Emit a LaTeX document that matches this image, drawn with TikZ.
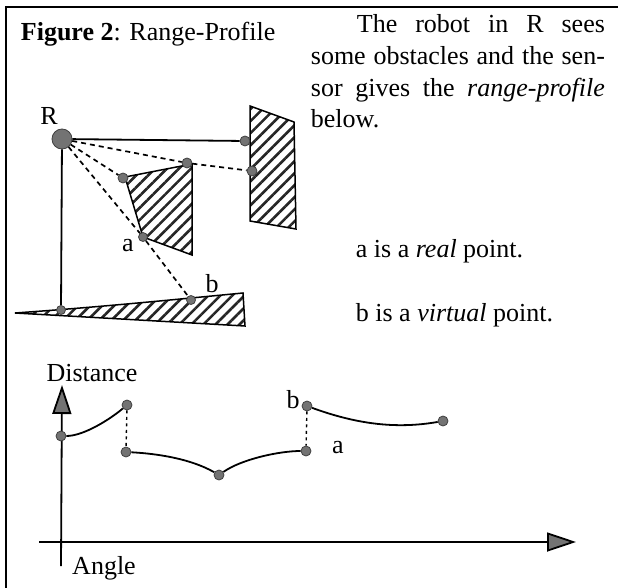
\documentclass[tikz,border=0pt]{standalone}
\usepackage{fontspec}
\setmainfont{Liberation Serif}
\usetikzlibrary{arrows.meta,patterns.meta,calc}

\begin{document}
\begin{tikzpicture}[x=1pt,y=-1pt,line width=1.8pt,
 hit/.style={draw=black!75,fill=black!55,circle,minimum size=10pt,inner sep=0pt,line width=0.8pt},
 robot/.style={hit,minimum size=20pt},
 lab/.style={font=\fontsize{26}{32}\selectfont,inner sep=0pt},
 txt/.style={lab,anchor=base west},
 obst/.style={draw,line width=1.5pt,pattern={Lines[angle=45,distance=8.5pt,line width=2.6pt]},pattern color=black!85},
 ray/.style={dash pattern=on 5pt off 4pt,line width=1.7pt},
 vgap/.style={dash pattern=on 3pt off 3.5pt,line width=1.4pt},
 axis/.style={-{Triangle[length=29pt,width=19pt,fill=black!55]},line width=1.8pt}]
\useasboundingbox (0,0) rectangle (618,588);
% frame
\draw[line width=2pt] (5.5,588) -- (5.5,7) -- (618,7);
% obstacles
\draw[obst] (250,106) -- (294,122) -- (296,229) -- (250,221) -- cycle;
\draw[obst] (125,177) -- (192,164) -- (192,255) -- (143,237) -- cycle;
\draw[obst] (15,313) .. controls (100,307) and (170,300) .. (243,293) -- (245,326) -- cycle;
% points on the scene
\node[robot] (R) at (62,139) {};
\node[hit] (h1) at (245,141) {};
\node[hit] (h2) at (252,171) {};
\node[hit] (h3) at (187,163) {};
\node[hit] (h4) at (123,178) {};
\node[hit,minimum size=9pt] (ra) at (143,237) {};
\node[hit,minimum size=9pt] (rb) at (191,300) {};
\node[hit,minimum size=9pt] (h5) at (61,310) {};
\draw (R) -- (h1);
\draw (R) -- (h5);
\draw[ray] (R) -- (h3);
\draw[ray] (h3) -- (h2);
\draw[ray] (R) -- (h4);
\draw[ray] (R) -- (ra);
\draw[ray] (ra) -- (rb);
\node[lab] (lR) at (49,116) {R};
\node[lab] (la) at (128,246) {a};
\node[lab] (lb) at (212,284) {b};
% text
\node[txt] (title) at (20,41) {\textbf{Figure 2}: Range-Profile};
\node[txt] (t1) at (356,33) {\makebox[248pt][s]{The robot in R sees}};
\node[txt] (t2) at (310,65) {\makebox[294pt][s]{some obstacles and the sen-}};
\node[txt] (t3) at (310,97) {\makebox[294pt][s]{sor gives the \textit{range-profile}}};
\node[txt] (t4) at (310,128) {below.};
\node[txt] (t5) at (355,257) {a is a \textit{real} point.};
\node[txt] (t6) at (355,321) {b is a \textit{virtual} point.};
% profile
\coordinate (ytop) at (62,385);
\coordinate (ybot) at (61,566);
\coordinate (xlft) at (39,542);
\coordinate (xrgt) at (576,542);
\draw[axis] (ybot) -- (ytop);
\draw[axis] (xlft) -- (xrgt);
\node[hit] (p1) at (61,436) {};
\node[hit] (p2) at (127,405) {};
\node[hit] (p3) at (126,452) {};
\node[hit] (p4) at (219,475) {};
\node[hit] (p5) at (306,451) {};
\node[hit] (p6) at (307,406) {};
\node[hit] (p7) at (443,421) {};
\draw (p1) to[out=0,in=220,looseness=0.7] (p2);
\draw (p3) to[out=-3,in=150,looseness=0.8] (p4);
\draw (p4) to[out=35,in=180,looseness=0.7] (p5);
\draw (p6) to[out=-20,in=190,looseness=0.9] (p7);
\draw[vgap] (p2) -- (p3);
\draw[vgap] (p6) -- (p5);
\node[lab] (dist) at (92,373) {Distance};
\node[lab] (ang) at (104,568) {Angle};
\node[lab] (pb) at (293,400) {b};
\node[lab] (pa) at (338,448) {a};
\end{tikzpicture}
\end{document}
